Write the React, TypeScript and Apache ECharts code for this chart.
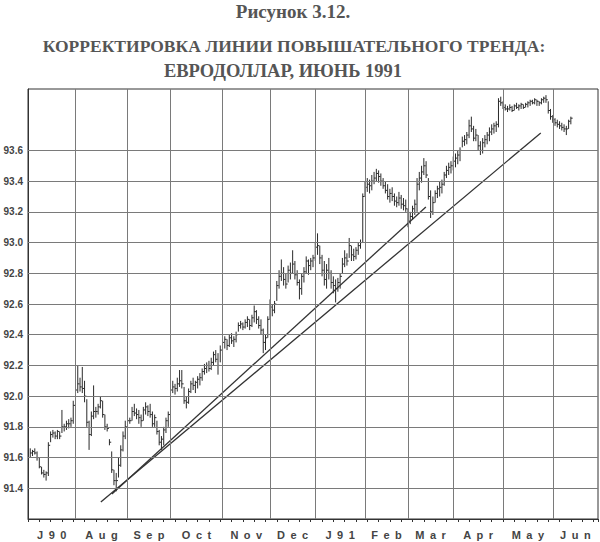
import { useEffect, useRef } from 'react';
import * as echarts from 'echarts';

// Trading days per month, July 1990 .. June 1991
const monthDays = [21, 23, 19, 23, 21, 20, 22, 19, 20, 22, 22, 20];
const monthLabels = ['J90', 'Aug', 'Sep', 'Oct', 'Nov', 'Dec', 'J91', 'Feb', 'Mar', 'Apr', 'May', 'Jun'];
const priceLevels = [91.4, 91.6, 91.8, 92.0, 92.2, 92.4, 92.6, 92.8, 93.0, 93.2, 93.4, 93.6];

// Daily highs (index = trading day from 1 July 1990)
const highs: (number | null)[] = [
  // Jul
  null, 91.66, 91.65, 91.66, 91.64, 91.60, 91.54, 91.52, 91.51, 91.70, 91.77, 91.78, 91.77, 91.78, 91.77, 91.91, 91.82, 91.84, 91.85, 91.86, 91.97,
  // Aug
  92.06, 92.20, 92.12, 92.19, 92.10, 91.98, 91.84, 91.90, 92.07, 91.93, 91.95, 92.00, 91.97, 91.88, 91.82, 91.72, 91.64, 91.52, 91.50, 91.60, 91.68, 91.77, 91.84,
  // Sep
  91.87, 91.86, 91.93, 91.95, 91.92, 91.91, 91.88, 91.93, 91.96, 91.94, 91.95, 91.90, 91.88, 91.84, 91.78, 91.74, 91.80, 91.86, 91.90,
  // Oct
  92.08, 92.10, 92.08, 92.12, 92.17, 92.17, 92.06, 92.00, 92.05, 92.10, 92.12, 92.10, 92.13, 92.15, 92.18, 92.21, 92.22, 92.23, 92.25, 92.29, 92.30, 92.28, 92.33,
  // Nov
  92.38, 92.39, 92.37, 92.40, 92.41, 92.39, 92.42, 92.48, 92.49, 92.48, 92.50, 92.52, 92.50, 92.53, 92.59, 92.56, 92.52, 92.50, 92.44, 92.40, 92.52,
  // Dec
  92.63, 92.60, 92.62, 92.75, 92.82, 92.89, 92.84, 92.80, 92.85, 92.87, 92.95, 92.88, 92.82, 92.76, 92.80, 92.84, 92.91, 92.89, 92.90, 92.92,
  // Jan
  93.00, 93.06, 92.98, 92.92, 92.88, 92.86, 92.90, 92.82, 92.78, 92.76, 92.77, 92.80, 92.90, 92.95, 92.93, 93.03, 92.98, 92.96, 92.97, 93.00, 93.02, 93.32,
  // Feb
  93.40, 93.42, 93.41, 93.44, 93.46, 93.48, 93.47, 93.45, 93.42, 93.40, 93.38, 93.35, 93.36, 93.32, 93.30, 93.33, 93.31, 93.29, 93.28,
  // Mar
  93.22, 93.20, 93.24, 93.28, 93.42, 93.46, 93.50, 93.55, 93.53, 93.42, 93.34, 93.30, 93.34, 93.37, 93.40, 93.41, 93.46, 93.50, 93.52, 93.53,
  // Apr
  93.56, 93.58, 93.60, 93.62, 93.69, 93.70, 93.72, 93.80, 93.82, 93.76, 93.74, 93.70, 93.66, 93.68, 93.70, 93.72, 93.75, 93.77, 93.78, 93.79, 93.94, 93.95,
  // May
  93.92, 93.90, 93.89, 93.90, 93.89, 93.90, 93.91, 93.90, 93.91, 93.90, 93.91, 93.92, 93.93, 93.93, 93.94, 93.93, 93.92, 93.94, 93.95, 93.96, 93.92, 93.87,
  // Jun
  93.83, 93.81, 93.80, 93.79, 93.78, 93.77, 93.76, 93.80, 93.82,
];

const lows: (number | null)[] = [
  null, 91.60, 91.61, 91.62, 91.58, 91.53, 91.49, 91.47, 91.45, 91.48, 91.70, 91.73, 91.72, 91.72, 91.72, 91.76, 91.77, 91.78, 91.79, 91.80, 91.82,
  91.98, 92.02, 92.03, 92.02, 91.96, 91.80, 91.65, 91.74, 91.85, 91.86, 91.88, 91.92, 91.86, 91.78, 91.77, 91.68, 91.50, 91.42, 91.38, 91.47, 91.54, 91.64, 91.72,
  91.80, 91.82, 91.84, 91.87, 91.85, 91.82, 91.80, 91.84, 91.88, 91.87, 91.86, 91.80, 91.80, 91.75, 91.68, 91.65, 91.68, 91.76, 91.80,
  91.98, 92.02, 92.01, 92.03, 92.06, 92.05, 91.95, 91.92, 91.95, 92.02, 92.04, 92.02, 92.05, 92.07, 92.10, 92.14, 92.15, 92.16, 92.17, 92.20, 92.22, 92.14, 92.22,
  92.29, 92.31, 92.30, 92.32, 92.34, 92.32, 92.35, 92.42, 92.44, 92.43, 92.44, 92.45, 92.43, 92.45, 92.48, 92.47, 92.44, 92.40, 92.28, 92.30, 92.38,
  92.50, 92.52, 92.54, 92.62, 92.70, 92.75, 92.72, 92.70, 92.74, 92.76, 92.80, 92.76, 92.72, 92.63, 92.66, 92.74, 92.80, 92.79, 92.82, 92.84,
  92.88, 92.92, 92.86, 92.78, 92.72, 92.70, 92.76, 92.70, 92.67, 92.61, 92.68, 92.70, 92.80, 92.84, 92.85, 92.90, 92.88, 92.88, 92.89, 92.92, 92.96, 93.00,
  93.30, 93.33, 93.32, 93.34, 93.38, 93.40, 93.39, 93.37, 93.35, 93.32, 93.28, 93.26, 93.27, 93.24, 93.23, 93.24, 93.22, 93.21, 93.20,
  93.10, 93.12, 93.15, 93.18, 93.20, 93.34, 93.39, 93.44, 93.42, 93.28, 93.16, 93.18, 93.26, 93.29, 93.30, 93.32, 93.37, 93.42, 93.44, 93.45,
  93.47, 93.49, 93.51, 93.53, 93.62, 93.63, 93.64, 93.68, 93.72, 93.66, 93.66, 93.60, 93.57, 93.58, 93.62, 93.64, 93.66, 93.70, 93.71, 93.72, 93.75, 93.89,
  93.87, 93.86, 93.85, 93.86, 93.85, 93.86, 93.87, 93.86, 93.87, 93.87, 93.88, 93.88, 93.89, 93.90, 93.90, 93.89, 93.89, 93.90, 93.91, 93.91, 93.84, 93.80,
  93.78, 93.76, 93.75, 93.74, 93.73, 93.72, 93.70, 93.74, 93.77,
];

const closes: (number | null)[] = [
  null, 91.63, 91.64, 91.63, 91.60, 91.54, 91.50, 91.49, 91.50, 91.68, 91.75, 91.76, 91.74, 91.77, 91.74, 91.80, 91.80, 91.82, 91.82, 91.84, 91.94,
  92.04, 92.08, 92.06, 92.05, 92.00, 91.83, 91.75, 91.87, 91.90, 91.90, 91.93, 91.97, 91.88, 91.80, 91.79, 91.70, 91.52, 91.45, 91.45, 91.55, 91.65, 91.74, 91.80,
  91.84, 91.84, 91.90, 91.89, 91.88, 91.86, 91.84, 91.91, 91.93, 91.90, 91.88, 91.82, 91.86, 91.77, 91.70, 91.72, 91.78, 91.84, 91.88,
  92.04, 92.06, 92.05, 92.08, 92.10, 92.08, 91.97, 91.96, 92.03, 92.08, 92.07, 92.09, 92.11, 92.12, 92.16, 92.18, 92.20, 92.18, 92.22, 92.27, 92.24, 92.20, 92.30,
  92.35, 92.37, 92.33, 92.38, 92.36, 92.37, 92.40, 92.46, 92.47, 92.45, 92.48, 92.50, 92.46, 92.51, 92.55, 92.50, 92.46, 92.43, 92.35, 92.38, 92.50,
  92.58, 92.56, 92.60, 92.72, 92.78, 92.80, 92.76, 92.73, 92.82, 92.80, 92.86, 92.79, 92.74, 92.70, 92.78, 92.81, 92.88, 92.85, 92.88, 92.90,
  92.97, 92.98, 92.90, 92.82, 92.76, 92.82, 92.80, 92.74, 92.72, 92.70, 92.74, 92.78, 92.86, 92.90, 92.88, 92.98, 92.92, 92.91, 92.95, 92.98, 93.00, 93.30,
  93.36, 93.38, 93.37, 93.40, 93.42, 93.45, 93.43, 93.40, 93.37, 93.34, 93.30, 93.32, 93.30, 93.27, 93.26, 93.29, 93.25, 93.24, 93.22,
  93.14, 93.17, 93.22, 93.25, 93.38, 93.42, 93.46, 93.50, 93.44, 93.30, 93.20, 93.26, 93.32, 93.35, 93.36, 93.38, 93.44, 93.47, 93.49, 93.50,
  93.53, 93.55, 93.57, 93.60, 93.66, 93.67, 93.70, 93.76, 93.74, 93.68, 93.70, 93.63, 93.60, 93.65, 93.67, 93.70, 93.72, 93.74, 93.76, 93.77, 93.92, 93.91,
  93.88, 93.87, 93.87, 93.88, 93.86, 93.89, 93.88, 93.89, 93.90, 93.88, 93.90, 93.91, 93.92, 93.91, 93.93, 93.92, 93.91, 93.93, 93.94, 93.93, 93.86, 93.82,
  93.80, 93.78, 93.77, 93.76, 93.75, 93.74, 93.74, 93.79, 93.81,
];

// Trend lines: [trading day, price]
const trendLower = [[32.2, 91.31], [226.7, 93.714]];
const trendUpper = [[37.1, 91.363], [175.9, 93.232]];

const titleLine1 = 'Рисунок 3.12.';
const titleLine2 = 'КОРРЕКТИРОВКА ЛИНИИ ПОВЫШАТЕЛЬНОГО ТРЕНДА:';
const titleLine3 = 'ЕВРОДОЛЛАР, ИЮНЬ 1991';

export default function App() {
  const ref = useRef<HTMLDivElement>(null);
  useEffect(() => {
    document.body.style.margin = '0';
    const chart = echarts.init(ref.current!, null, { renderer: 'svg' });

    const monthStarts: number[] = [0];
    monthDays.forEach((d) => monthStarts.push(monthStarts[monthStarts.length - 1] + d));
    const totalDays = monthStarts[monthStarts.length - 1];
    const monthMids = monthDays.map((d, i) => monthStarts[i] + d / 2);

    const bars: number[][] = [];
    highs.forEach((h, i) => {
      if (h != null && lows[i] != null && closes[i] != null) bars.push([i, h, lows[i] as number, closes[i] as number]);
    });

    const ink = '#2a2a2a';
    const gridColor = '#7a7a7a';

    const option: any = {
      animation: false,
      backgroundColor: '#ffffff',
      grid: { left: 28, right: 2, top: 89, bottom: 23, show: true, borderColor: '#333', borderWidth: 1 },
      graphic: [
        { type: 'text', x: 293, y: 11, style: { text: titleLine1, font: 'bold 19px "Liberation Serif"', fill: '#555', align: 'center', verticalAlign: 'middle' } },
        { type: 'text', x: 294, y: 46, style: { text: titleLine2, font: 'bold 17.5px "Liberation Serif"', fill: '#555', align: 'center', verticalAlign: 'middle' } },
        { type: 'text', x: 283, y: 71, style: { text: titleLine3, font: 'bold 18.5px "Liberation Serif"', fill: '#555', align: 'center', verticalAlign: 'middle' } },
      ],
      xAxis: {
        type: 'value',
        min: 0,
        max: totalDays,
        interval: 5,
        axisLine: { show: true, lineStyle: { color: '#333', width: 1 } },
        axisTick: { show: true, length: 3, lineStyle: { color: '#333' } },
        axisLabel: {
          customValues: monthMids,
          formatter: (v: number) => {
            const k = monthMids.findIndex((m) => Math.abs(m - v) < 0.01);
            return k >= 0 ? monthLabels[k].split('').join('\u2002') : '';
          },
          fontSize: 11,
          fontWeight: 'bold',
          fontFamily: '"Liberation Sans", Arial, sans-serif',
          color: '#444',
          margin: 10,
        },
        splitLine: { show: false },
      },
      yAxis: {
        type: 'value',
        min: 91.2,
        max: 94.0,
        interval: 0.2,
        axisLine: { show: true, lineStyle: { color: '#333', width: 1 } },
        axisTick: { show: false },
        axisLabel: {
          formatter: (v: number) => (v > 91.35 && v < 93.65 ? v.toFixed(1) : ''),
          fontSize: 10,
          fontWeight: 'bold',
          fontFamily: '"Liberation Sans", Arial, sans-serif',
          color: '#444',
          margin: 5,
        },
        splitLine: { show: false },
      },
      series: [
        {
          type: 'line',
          data: [],
          z: 1,
          silent: true,
          markLine: {
            silent: true,
            symbol: ['none', 'none'],
            label: { show: false },
            lineStyle: { color: gridColor, width: 1, type: 'solid' },
            data: [
              ...monthStarts.slice(1, -1).map((b) => ({ xAxis: b })),
              ...priceLevels.map((p) => ({ yAxis: p })),
            ],
          },
        },
        {
          type: 'custom',
          z: 3,
          data: bars,
          encode: { x: 0, y: [1, 2, 3] },
          renderItem: (params: any, api: any) => {
            const x = api.value(0);
            const top = api.coord([x, api.value(1)]);
            const bot = api.coord([x, api.value(2)]);
            const c = api.coord([x, api.value(3)]);
            return {
              type: 'group',
              children: [
                { type: 'line', shape: { x1: top[0], y1: top[1], x2: bot[0], y2: bot[1] }, style: { stroke: ink, lineWidth: 1 } },
                { type: 'line', shape: { x1: c[0], y1: c[1], x2: c[0] + 1.8, y2: c[1] }, style: { stroke: ink, lineWidth: 1 } },
              ],
            };
          },
        },
        {
          type: 'line',
          z: 4,
          data: trendLower,
          symbol: 'none',
          lineStyle: { color: '#333', width: 1.3 },
        },
        {
          type: 'line',
          z: 4,
          data: trendUpper,
          symbol: 'none',
          lineStyle: { color: '#333', width: 1.3 },
        },
      ],
    };
    chart.setOption(option);
    return () => chart.dispose();
  }, []);
  return <div ref={ref} style={{ width: 600, height: 542 }} />;
}
